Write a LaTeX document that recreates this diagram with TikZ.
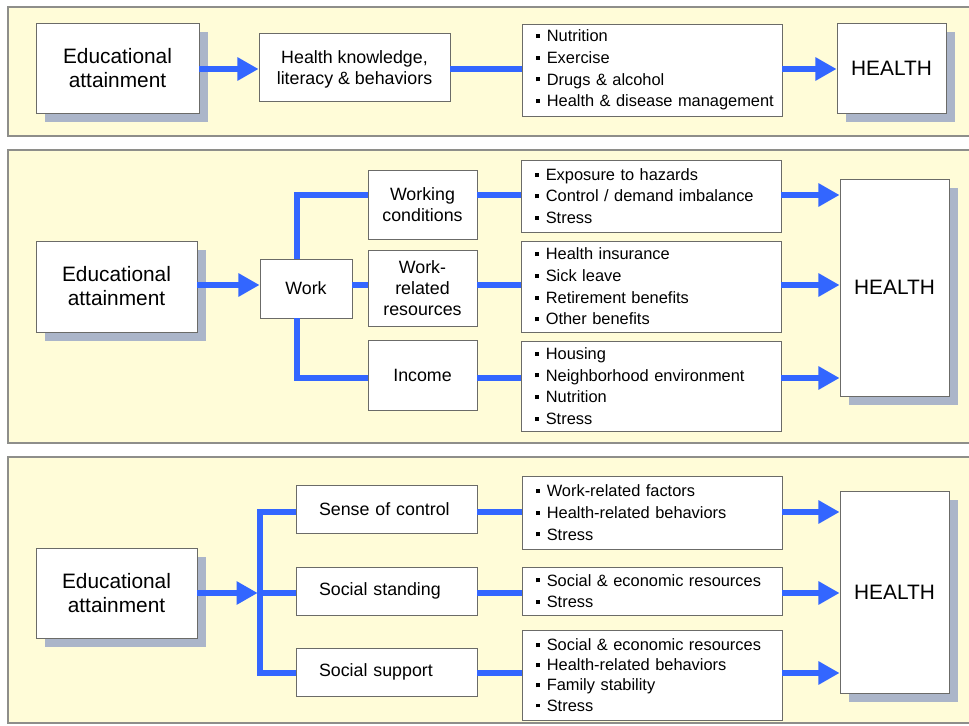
\documentclass[tikz,border=0pt]{standalone}
\usepackage{fontspec}
\setmainfont{Liberation Sans}
\usetikzlibrary{arrows.meta, shadows}
\definecolor{panelc}{HTML}{FFFCD8}
\definecolor{panelb}{HTML}{8E8E8A}
\definecolor{boxb}{HTML}{6B6B68}
\definecolor{shadc}{HTML}{ABB5C9}
\definecolor{linkc}{HTML}{3366FF}
\newcommand{\itm}{\hspace*{7.5pt}\rule[0.22em]{3.4pt}{3.4pt}\hspace{6pt}}

\begin{document}
\begin{tikzpicture}[x=0.03cm,y=-0.03cm,
  size/.style 2 args={minimum width=#1*0.03cm, minimum height=#2*0.03cm},
  panel/.style={fill=panelc, draw=panelb, line width=1.5pt},
  box/.style={draw=boxb, fill=white, line width=0.8pt, inner sep=0pt, align=center,
    font=\fontsize{15.2}{17.5}\selectfont},
  bigbox/.style={box, font=\fontsize{17.8}{20.5}\selectfont,
    drop shadow={shadow xshift=0.27cm, shadow yshift=-0.27cm, fill=shadc, opacity=1}},
  tagbox/.style={box, align=left, inner xsep=23*0.03cm, text width=135*0.03cm},
  list/.style={box, align=left, inner xsep=5*0.03cm, text width=250*0.03cm,
    font=\fontsize{14}{18.5}\selectfont, execute at begin node={\hyphenpenalty=10000 }},
  link/.style={draw=linkc, line width=4.3pt},
  arr/.style={link, -{Triangle[length=18pt,width=19pt]}}]
\useasboundingbox (0,0) rectangle (969,726);
\draw[panel] (8,7) rectangle (980,136);
\draw[panel] (8,150) rectangle (980,443);
\draw[panel] (8,457) rectangle (980,723);

% schooling -> knowledge
\node[bigbox, size={163}{90}] (edu1) at (117.5,68) {Educational\\attainment};
\node[box, size={191}{68}, text depth=0pt] (know) at (354.5,67.5) {Health knowledge,\\literacy \& behaviors};
\node[list, size={260}{92}] (beh1) at (652,70) {\itm Nutrition\\\itm Exercise\\\itm Drugs \& alcohol\\\itm Health \& disease management};
\node[bigbox, size={109}{90}] (health1) at (891.5,68) {HEALTH};
\coordinate (r11) at (0,69);
\draw[arr] (edu1.east |- r11) -- (know.west |- r11);
\draw[link] (know.east |- r11) -- (beh1.west |- r11);
\draw[arr] (beh1.east |- r11) -- (health1.west |- r11);

% schooling -> work
\node[bigbox, size={161}{91}] (edu2) at (116.5,286.5) {Educational\\attainment};
\node[box, size={92}{59}] (work) at (306,288.5) {Work};
\node[box, size={109}{69}, font=\fontsize{15.2}{18}\selectfont] (cond) at (422.5,204.5) {Working\\conditions};
\node[box, size={109}{76}, font=\fontsize{15.2}{18}\selectfont] (res) at (422.5,288) {Work-\\related\\resources};
\node[box, size={109}{70}] (inc) at (422.5,375) {Income};
\node[list, size={260}{72}] (haz) at (651,196) {\itm Exposure to hazards\\\itm Control / demand imbalance\\\itm Stress};
\node[list, size={260}{91}] (ins) at (651,286.5) {\itm Health insurance\\\itm Sick leave\\\itm Retirement benefits\\\itm Other benefits};
\node[list, size={260}{90}] (hous) at (651,386) {\itm Housing\\\itm Neighborhood environment\\\itm Nutrition\\\itm Stress};
\node[bigbox, size={109}{217}] (health2) at (894.5,287.5) {HEALTH};
\coordinate (r21) at (0,195);
\coordinate (r22) at (0,285);
\coordinate (r23) at (0,378);
\coordinate (wx) at (297,0);
\draw[arr] (edu2.east |- r22) -- (work.west |- r22);
\draw[link] (cond.west |- r21) -| (wx |- work.north);
\draw[link] (work.east |- r22) -- (res.west |- r22);
\draw[link] (inc.west |- r23) -| (wx |- work.south);
\draw[link] (cond.east |- r21) -- (haz.west |- r21);
\draw[link] (res.east |- r22) -- (ins.west |- r22);
\draw[link] (inc.east |- r23) -- (hous.west |- r23);
\draw[arr] (haz.east |- r21) -- (health2.west |- r21);
\draw[arr] (ins.east |- r22) -- (health2.west |- r22);
\draw[arr] (hous.east |- r23) -- (health2.west |- r23);

% schooling -> psychosocial
\node[bigbox, size={161}{90}] (edu3) at (116.5,593) {Educational\\attainment};
\node[tagbox, size={181}{48}] (ctrl) at (386.5,509) {Sense of control};
\node[tagbox, size={181}{48}] (stand) at (386.5,591) {Social standing};
\node[tagbox, size={181}{48}] (supp) at (386.5,672) {Social support};
\node[list, size={260}{73}] (fac) at (652,512.5) {\itm Work-related factors\\\itm Health-related behaviors\\\itm Stress};
\node[list, size={260}{48}] (soc) at (652,591) {\itm Social \& economic resources\\\itm Stress};
\node[list, size={260}{90}, font=\fontsize{14}{17.2}\selectfont] (fam) at (652,675) {\itm Social \& economic resources\\\itm Health-related behaviors\\\itm Family stability\\\itm Stress};
\node[bigbox, size={109}{202}] (health3) at (894.5,592) {HEALTH};
\coordinate (r31) at (0,512);
\coordinate (r32) at (0,593);
\coordinate (r33) at (0,673);
\coordinate (fork) at (260,593);
\draw[link] (ctrl.west |- r31) -| (fork) |- (supp.west |- r33);
\draw[link] (fork) -- (stand.west |- r32);
\draw[arr, shorten >=2pt] (edu3.east |- r32) -- (fork);
\draw[link] (ctrl.east |- r31) -- (fac.west |- r31);
\draw[link] (stand.east |- r32) -- (soc.west |- r32);
\draw[link] (supp.east |- r33) -- (fam.west |- r33);
\draw[arr] (fac.east |- r31) -- (health3.west |- r31);
\draw[arr] (soc.east |- r32) -- (health3.west |- r32);
\draw[arr] (fam.east |- r33) -- (health3.west |- r33);
\end{tikzpicture}
\end{document}
